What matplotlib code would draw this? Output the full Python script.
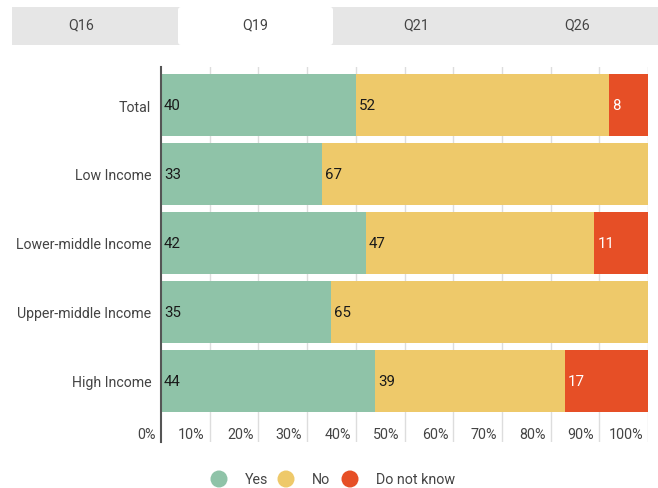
import matplotlib.pyplot as plt
from matplotlib.patches import FancyBboxPatch, Rectangle
import matplotlib.transforms as mtransforms

plt.rcParams['font.family'] = ['Roboto', 'DejaVu Sans']

groups = ["Total", "Low Income", "Lower-middle Income", "Upper-middle Income", "High Income"]
yes = [40, 33, 42, 35, 44]
no = [52, 67, 47, 65, 39]
dont_know = [8, 0, 11, 0, 17]
series_names = ["Yes", "No", "Do not know"]
colors = ["#8fc3a8", "#eec96a", "#e64f26"]
tabs = ["Q16", "Q19", "Q21", "Q26"]
active_tab = "Q19"
ticks = [0, 10, 20, 30, 40, 50, 60, 70, 80, 90, 100]

W, H = 658, 489
fig = plt.figure(figsize=(W / 100, H / 100), dpi=100)

# tab bar
bg = fig.add_axes([0, 0, 1, 1])
bg.set_xlim(0, W)
bg.set_ylim(H, 0)
bg.axis("off")
bg.add_patch(Rectangle((12, 8), W - 12, 38, color="#e6e6e6", lw=0))
tab_centres = [81, 255.5, 416, 577]
for t, cx in zip(tabs, tab_centres):
    if t == active_tab:
        bg.add_patch(FancyBboxPatch((178, 8), 155, 38,
                                    boxstyle="round,pad=0,rounding_size=3",
                                    color="white", lw=0))
    bg.text(cx, 25, t, ha="center", va="center", fontsize=10.3, color="#444444")

# main chart
x_left, x_right = 161, 648
y_top, y_bot = 68, 443
ax = fig.add_axes([x_left / W, 1 - y_bot / H, (x_right - x_left) / W, (y_bot - y_top) / H])
step = 69
c0 = 106
ax.set_ylim((y_bot - c0) / step, (y_top - c0) / step)
ax.set_xlim(0, 100)

pos = list(range(len(groups)))
left = [0] * len(groups)
for vals, col, name in zip([yes, no, dont_know], colors, series_names):
    ax.barh(pos, vals, left=left, height=62 / step, color=col, lw=0, zorder=2, label=name)
    for p, v, l in zip(pos, vals, left):
        if v > 0:
            ax.text(l + 0.6, p, str(v), va="center", ha="left", fontsize=10.8,
                    color="white" if col == colors[2] else "#1a1a1a", zorder=3)
    left = [a + b for a, b in zip(left, vals)]

for t in ticks[1:]:
    ax.axvline(t, color="#dddddd", lw=1, zorder=1)

off = mtransforms.offset_copy(ax.transData, fig=fig, x=-5, y=0, units="dots")
for t in ticks:
    ax.text(t, (435 - c0) / step, f"{t}%", ha="right", va="center", fontsize=10.3,
            color="#444444", transform=off)

ax.set_xticks([])
ax.set_yticks(pos)
ax.set_yticklabels(groups, fontsize=10.2, color="#444444")
ax.tick_params(axis="y", length=0, pad=7)
for s in ["top", "right", "bottom"]:
    ax.spines[s].set_visible(False)
ax.spines["left"].set_color("#555555")
ax.spines["left"].set_linewidth(1.5)
ax.spines["left"].set_zorder(4)

# legend
lx = [219, 286, 350]
for x, col, name in zip(lx, colors, series_names):
    bg.add_patch(plt.Circle((x, 480), 8.5, color=col, lw=0))
    bg.text(x + 26, 480, name, ha="left", va="center", fontsize=10.3, color="#444444")

fig.savefig("out.png", dpi=100)
